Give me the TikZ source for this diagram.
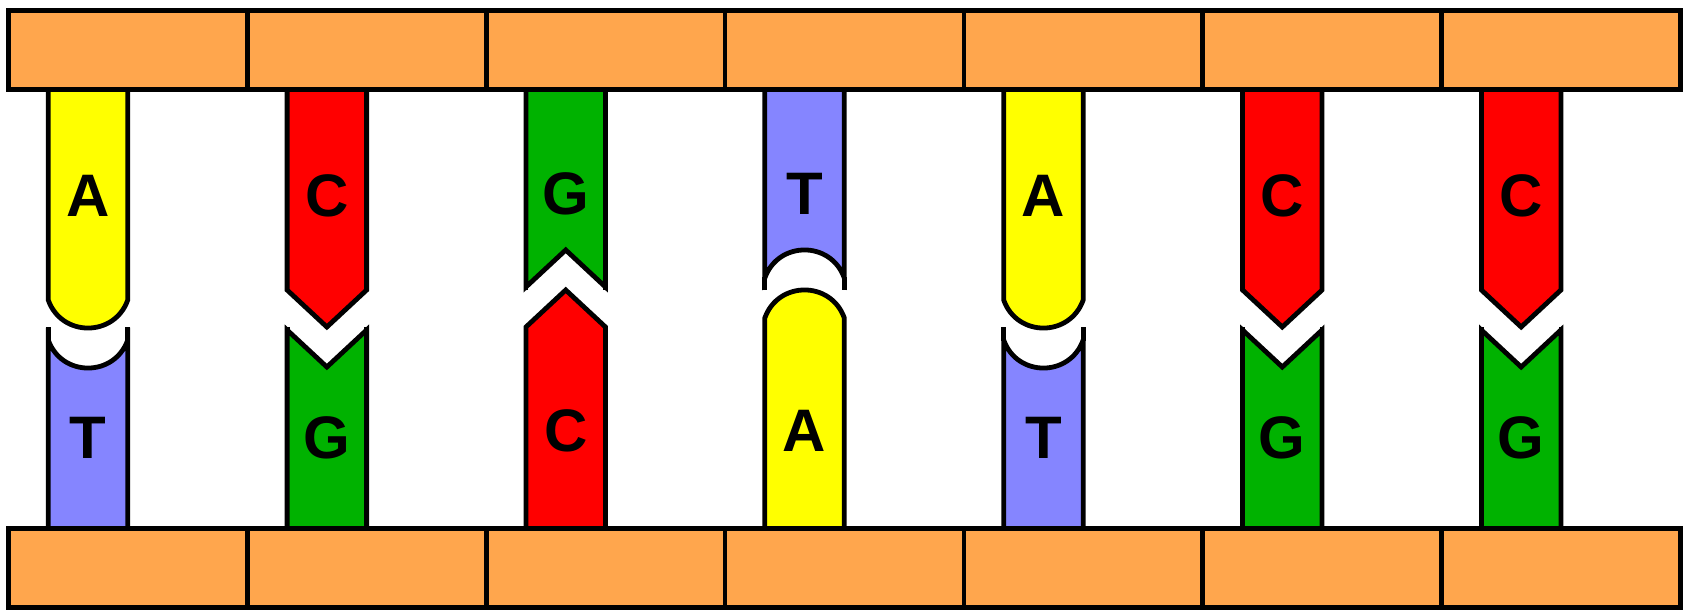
\documentclass[tikz,border=0pt]{standalone}
\usepackage{fontspec}
\setmainfont{Liberation Sans}
\definecolor{barorange}{HTML}{FFA64D}
\definecolor{byellow}{HTML}{FFFF00}
\definecolor{bred}{HTML}{FF0000}
\definecolor{bgreen}{HTML}{00B200}
\definecolor{bblue}{HTML}{8585FF}
\tikzset{
  strand/.style={draw=black,line width=2.4pt,line join=miter},
  spur/.style={draw=black,line width=2.4pt,line cap=butt},
  barbox/.style={draw=black,fill=barorange,line width=2.4pt},
  barline/.style={draw=black,line width=2.4pt},
  baseletter/.style={font=\fontsize{30}{30}\selectfont\bfseries,anchor=base,inner sep=0pt},
}
% top strand long, rounded (A over T)
\newcommand\dnaTLarc[6]{%
  \pgfmathsetmacro\dnaxl{#1-39.75}\pgfmathsetmacro\dnaxr{#1+39.75}%
  \pgfmathsetmacro\dnaxa{\dnaxl+13.3}\pgfmathsetmacro\dnaxb{\dnaxr-13.3}%
  \draw[strand,fill=#2] (\dnaxl,89.5) -- (\dnaxl,300) .. controls (\dnaxa,337.4) and (\dnaxb,337.4) .. (\dnaxr,300) -- (\dnaxr,89.5) -- cycle;
  \draw[strand,fill=#3] (\dnaxl,528.5) -- (\dnaxl,340) .. controls (\dnaxa,377.4) and (\dnaxb,377.4) .. (\dnaxr,340) -- (\dnaxr,528.5) -- cycle;
  \draw[spur] (\dnaxl,341) -- (\dnaxl,327) (\dnaxr,341) -- (\dnaxr,327);
  \node[baseletter] (#6t) at (#1,216) {#4};
  \node[baseletter] (#6b) at (#1,458) {#5};
}
% top strand long, pointed (C over G)
\newcommand\dnaTLv[6]{%
  \pgfmathsetmacro\dnaxl{#1-39.75}\pgfmathsetmacro\dnaxr{#1+39.75}%
  \draw[strand,fill=#2] (\dnaxl,89.5) -- (\dnaxl,290) -- (#1,327) -- (\dnaxr,290) -- (\dnaxr,89.5) -- cycle;
  \draw[strand,fill=#3] (\dnaxl,528.5) -- (\dnaxl,330) -- (#1,367) -- (\dnaxr,330) -- (\dnaxr,528.5) -- cycle;
  \draw[spur] (\dnaxl,331) -- (\dnaxl,327) (\dnaxr,331) -- (\dnaxr,327);
  \node[baseletter] (#6t) at (#1,216) {#4};
  \node[baseletter] (#6b) at (#1,458) {#5};
}
% bottom strand long, pointed (G over C)
\newcommand\dnaBLv[6]{%
  \pgfmathsetmacro\dnaxl{#1-39.75}\pgfmathsetmacro\dnaxr{#1+39.75}%
  \draw[strand,fill=#2] (\dnaxl,89.5) -- (\dnaxl,287) -- (#1,250) -- (\dnaxr,287) -- (\dnaxr,89.5) -- cycle;
  \draw[strand,fill=#3] (\dnaxl,528.5) -- (\dnaxl,327) -- (#1,290) -- (\dnaxr,327) -- (\dnaxr,528.5) -- cycle;
  \draw[spur] (\dnaxl,286) -- (\dnaxl,290) (\dnaxr,286) -- (\dnaxr,290);
  \node[baseletter] (#6t) at (#1,214) {#4};
  \node[baseletter] (#6b) at (#1,451) {#5};
}
% bottom strand long, rounded (T over A)
\newcommand\dnaBLarc[6]{%
  \pgfmathsetmacro\dnaxl{#1-39.75}\pgfmathsetmacro\dnaxr{#1+39.75}%
  \pgfmathsetmacro\dnaxa{\dnaxl+13.3}\pgfmathsetmacro\dnaxb{\dnaxr-13.3}%
  \draw[strand,fill=#2] (\dnaxl,89.5) -- (\dnaxl,278) .. controls (\dnaxa,240.6) and (\dnaxb,240.6) .. (\dnaxr,278) -- (\dnaxr,89.5) -- cycle;
  \draw[strand,fill=#3] (\dnaxl,528.5) -- (\dnaxl,318) .. controls (\dnaxa,280.6) and (\dnaxb,280.6) .. (\dnaxr,318) -- (\dnaxr,528.5) -- cycle;
  \draw[spur] (\dnaxl,277) -- (\dnaxl,290) (\dnaxr,277) -- (\dnaxr,290);
  \node[baseletter] (#6t) at (#1,214) {#4};
  \node[baseletter] (#6b) at (#1,451) {#5};
}
\begin{document}
\begin{tikzpicture}[x=0.5pt,y=-0.5pt]
  \useasboundingbox (0,0) rectangle (1690,610);
  \dnaTLarc{88}{byellow}{bblue}{A}{T}{p1}
  \dnaTLv{326.86}{bred}{bgreen}{C}{G}{p2}
  \dnaBLv{565.71}{bgreen}{bred}{G}{C}{p3}
  \dnaBLarc{804.57}{bblue}{byellow}{T}{A}{p4}
  \dnaTLarc{1043.43}{byellow}{bblue}{A}{T}{p5}
  \dnaTLv{1282.29}{bred}{bgreen}{C}{G}{p6}
  \dnaTLv{1521.14}{bred}{bgreen}{C}{G}{p7}
  % backbones
  \draw[barbox] (8.5,10.5) rectangle (1680.5,89.5);
  \draw[barbox] (8.5,528.5) rectangle (1680.5,607.5);
  \foreach \i in {1,...,6} {
    \draw[barline] ({8.5+\i*238.857},10.5) -- ({8.5+\i*238.857},89.5);
    \draw[barline] ({8.5+\i*238.857},528.5) -- ({8.5+\i*238.857},607.5);
  }
\end{tikzpicture}
\end{document}
